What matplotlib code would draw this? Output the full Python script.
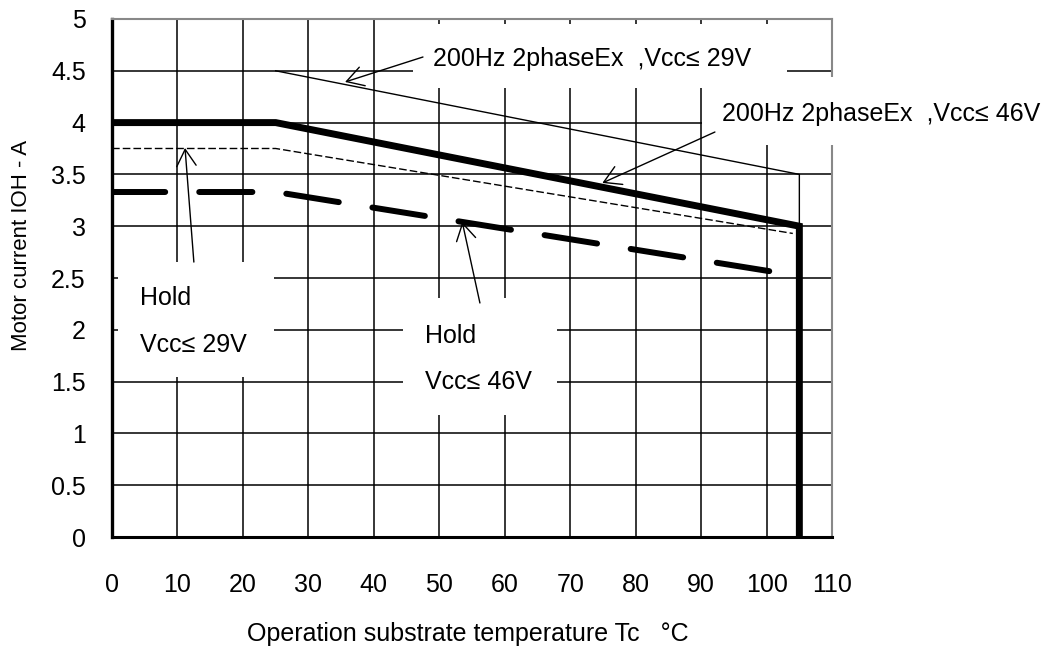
import matplotlib
matplotlib.use('Agg')
import matplotlib.pyplot as plt
from matplotlib.patches import Rectangle

plt.rcParams['font.family'] = ['Liberation Sans', 'DejaVu Sans']

# derating curves (Tc in degC, current in A)
tc_29v = [25, 105, 105]
ioh_29v = [4.5, 3.5, 0]
tc_46v = [0, 25, 105, 105]
ioh_46v = [4.0, 4.0, 3.0, 0]
tc_hold29 = [0, 25, 104]
ioh_hold29 = [3.75, 3.75, 2.93]
tc_hold46 = [0, 25, 102]
ioh_hold46 = [3.33, 3.33, 2.55]

x_ticks = list(range(0, 111, 10))
y_ticks = [0, 0.5, 1, 1.5, 2, 2.5, 3, 3.5, 4, 4.5, 5]
y_ticklabels = ['0', '0.5', '1', '1.5', '2', '2.5', '3', '3.5', '4', '4.5', '5']

fig = plt.figure(figsize=(10.53, 6.5), dpi=100)
ax = fig.add_axes([0.1064, 0.1738, 0.6838, 0.797])
ax.set_axisbelow(True)

ax.set_xlim(0, 110)
ax.set_ylim(0, 5)
ax.set_xticks(x_ticks)
ax.set_yticks(y_ticks)
ax.set_yticklabels(y_ticklabels)
ax.tick_params(length=0, labelsize=18)
ax.tick_params(axis='x', pad=26)
ax.tick_params(axis='y', pad=19)
ax.grid(True, color='black', linewidth=1.1)

ax.spines['left'].set_linewidth(2.4)
ax.spines['bottom'].set_linewidth(2.2)
for s in ['top', 'right']:
    ax.spines[s].set_color('#888888')
    ax.spines[s].set_linewidth(1.5)

# white boxes behind the labels (cut the grid)
ax.add_patch(Rectangle((46.0, 4.33), 57.1, 0.62, facecolor='white', edgecolor='none', zorder=1))
ax.add_patch(Rectangle((90.1, 3.78), 53.0, 0.66, facecolor='white', edgecolor='none', zorder=2.6, clip_on=False))
ax.add_patch(Rectangle((0.92, 1.544), 23.83, 1.11, facecolor='white', edgecolor='none', zorder=1))
ax.add_patch(Rectangle((44.46, 1.178), 23.53, 1.129, facecolor='white', edgecolor='none', zorder=1))

# curves
ax.plot(tc_29v, ioh_29v, color='black', linewidth=1.0, zorder=2)
ax.plot(tc_46v, ioh_46v, color='black', linewidth=5.0, solid_joinstyle='miter',
        solid_capstyle='butt', zorder=2.2, clip_on=False)
ax.plot(tc_hold29, ioh_hold29, color='black', linewidth=1.0, linestyle=(0, (5.5, 2.2)), zorder=2)
ax.plot(tc_hold46, ioh_hold46, color='black', linewidth=4.3, linestyle=(0, (8.9, 5.7)),
        dash_capstyle='round', zorder=2)

# labels
ax.text(49.05, 4.614, '200Hz 2phaseEx  ,Vcc≤ 29V', fontsize=18, ha='left', va='center', zorder=3)
ax.text(93.2, 4.083, '200Hz 2phaseEx  ,Vcc≤ 46V', fontsize=18, ha='left', va='center', zorder=3, clip_on=False)
ax.text(4.28, 2.307, 'Hold', fontsize=18, ha='left', va='center', zorder=3)
ax.text(4.28, 1.853, 'Vcc≤ 29V', fontsize=18, ha='left', va='center', zorder=3)
ax.text(47.82, 1.940, 'Hold', fontsize=18, ha='left', va='center', zorder=3)
ax.text(47.82, 1.496, 'Vcc≤ 46V', fontsize=18, ha='left', va='center', zorder=3)

arrow = dict(arrowstyle='->,head_length=0.6,head_width=0.35', color='black', lw=1.0,
             shrinkA=0, shrinkB=0, mutation_scale=20)
ax.annotate('', xy=(35.6, 4.392), xytext=(47.5, 4.633), arrowprops=arrow, zorder=3)
ax.annotate('', xy=(74.9, 3.417), xytext=(92.1, 3.909), arrowprops=arrow, zorder=3)
ax.annotate('', xy=(11.15, 3.755), xytext=(12.5, 2.654), arrowprops=arrow, zorder=3)
ax.annotate('', xy=(53.5, 3.041), xytext=(56.2, 2.259), arrowprops=arrow, zorder=3)

ax.set_xlabel('Operation substrate temperature Tc   °C', fontsize=18)
ax.xaxis.set_label_coords(0.494, -0.164)
ax.set_ylabel('Motor current IOH - A', fontsize=16,
              family=['Liberation Sans Narrow', 'Liberation Sans', 'DejaVu Sans'])
ax.yaxis.set_label_coords(-0.111, 0.562)

fig.savefig('out.png', dpi=100)
